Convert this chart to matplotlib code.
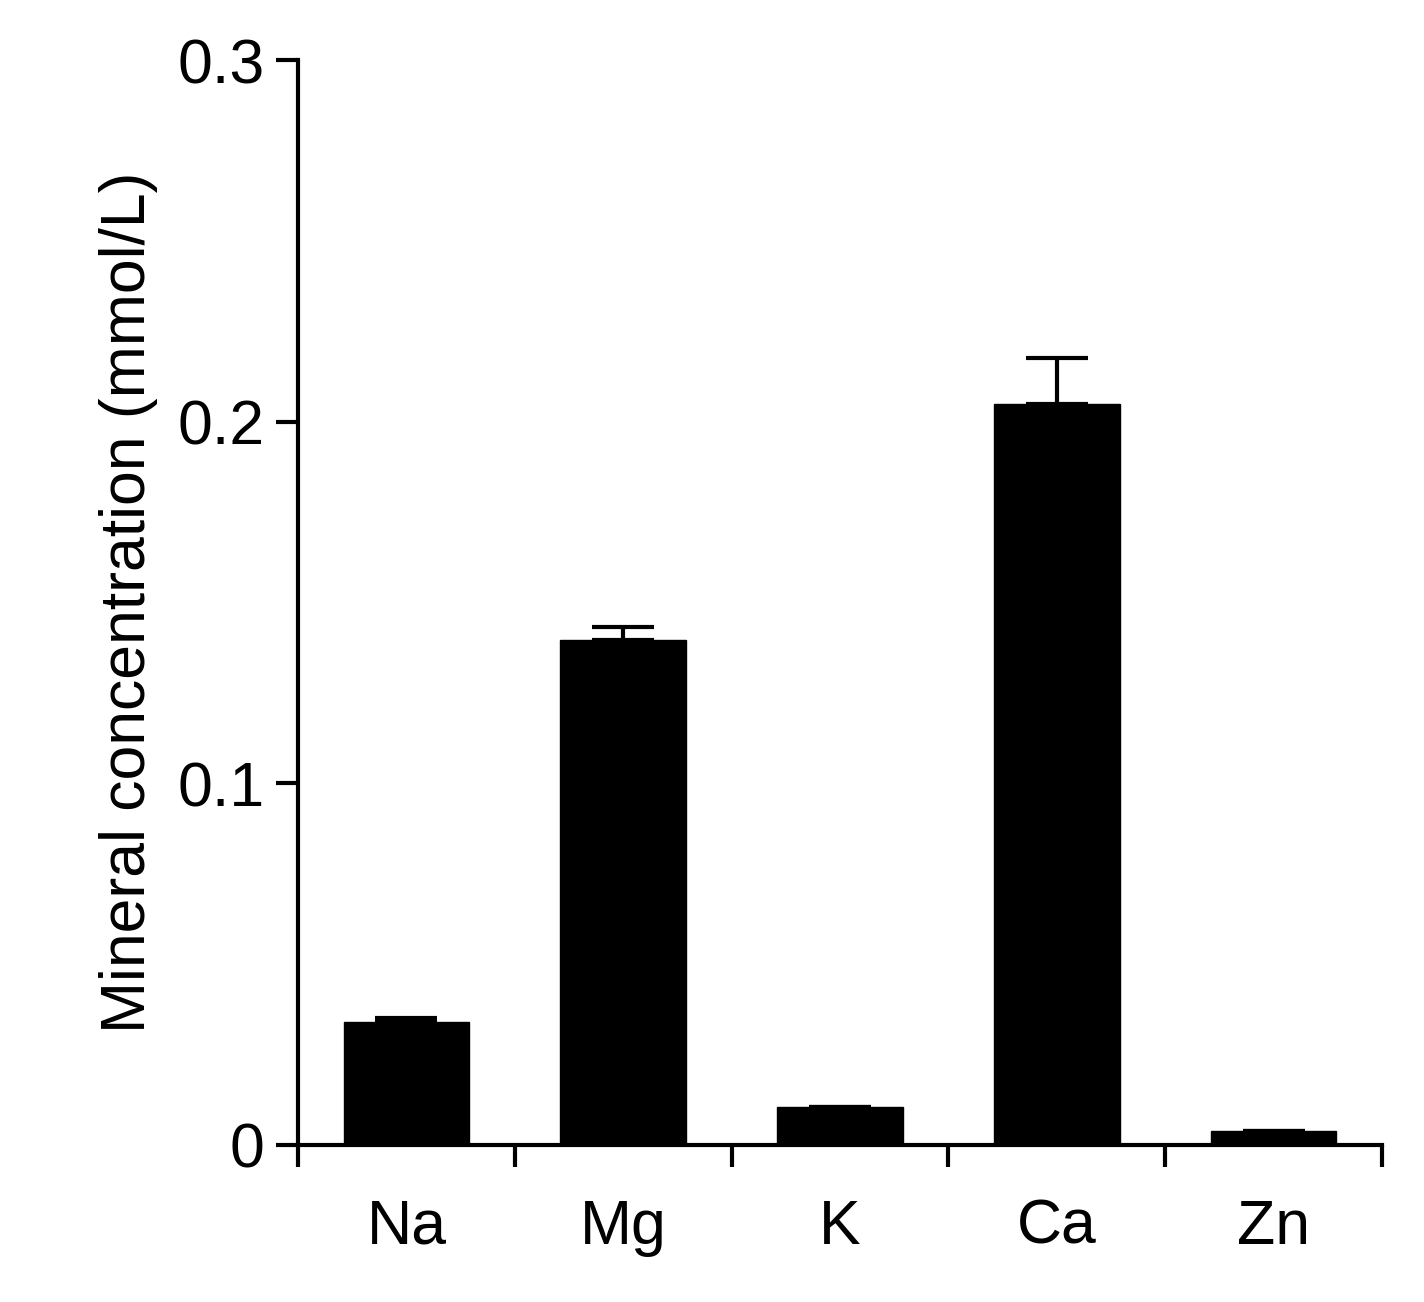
import matplotlib
matplotlib.use("Agg")
import matplotlib.pyplot as plt
import numpy as np

minerals = ["Na", "Mg", "K", "Ca", "Zn"]
means = [0.034, 0.1395, 0.0105, 0.205, 0.0038]
errors = [0.001, 0.0037, 0.0, 0.0125, 0.0]

plt.rcParams["font.family"] = ["Liberation Sans", "DejaVu Sans"]

fig = plt.figure(figsize=(14.24, 13.02), dpi=100)
ax = fig.add_axes([0.2093, 0.1206, 0.7612, 0.8333])

x = np.arange(len(minerals))
ax.bar(x, means, width=0.58, color="black", edgecolor="black")
ax.errorbar(x, means, yerr=[np.zeros(len(x)), errors], fmt="none",
            ecolor="black", elinewidth=3, capsize=22, capthick=3)

ax.set_xlim(-0.5, len(minerals) - 0.5)
ax.set_ylim(0, 0.3)
ax.set_yticks([0, 0.1, 0.2, 0.3])
ax.set_yticklabels(["0", "0.1", "0.2", "0.3"])
ax.set_xticks(x)
ax.set_xticklabels(minerals)
ax.set_xticks(np.arange(-0.5, len(minerals)), minor=True)
ax.tick_params(axis="x", which="major", length=0, labelsize=45, pad=38)
ax.tick_params(axis="x", which="minor", length=16, width=3, direction="out")
ax.tick_params(axis="y", length=16, width=3, labelsize=45, pad=8)
ax.set_ylabel("Mineral concentration (mmol/L)", fontsize=45, labelpad=14)

for s in ["top", "right"]:
    ax.spines[s].set_visible(False)
for s in ["left", "bottom"]:
    ax.spines[s].set_linewidth(3)

fig.savefig("out.png", dpi=100)
